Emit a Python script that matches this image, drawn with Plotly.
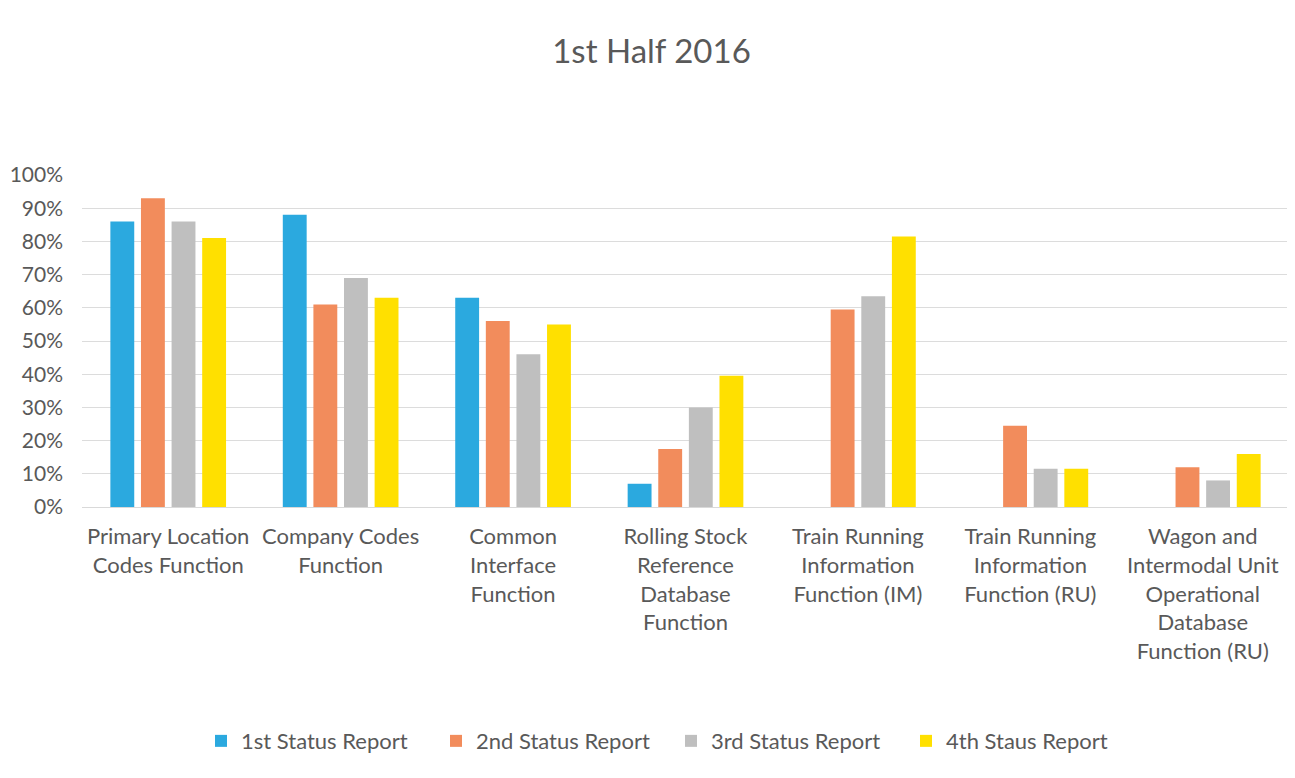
import plotly.graph_objects as go

categories = [
    "Primary Location<br>Codes Function",
    "Company Codes<br>Function",
    "Common<br>Interface<br>Function",
    "Rolling Stock<br>Reference<br>Database<br>Function",
    "Train Running<br>Information<br>Function (IM)",
    "Train Running<br>Information<br>Function (RU)",
    "Wagon and<br>Intermodal Unit<br>Operational<br>Database<br>Function (RU)",
]
series_names = ["1st Status Report", "2nd Status Report", "3rd Status Report", "4th Staus Report"]
first = [0.86, 0.88, 0.63, 0.07, None, None, None]
second = [0.93, 0.61, 0.56, 0.175, 0.595, 0.245, 0.12]
third = [0.86, 0.69, 0.46, 0.30, 0.635, 0.115, 0.08]
fourth = [0.81, 0.63, 0.55, 0.395, 0.815, 0.115, 0.16]
colors = ["#2BA9DF", "#F28C5C", "#BFBFBF", "#FFE000"]

fig = go.Figure()
for name, vals, c in zip(series_names, [first, second, third, fourth], colors):
    fig.add_trace(go.Bar(x=categories, y=vals, name=name, marker_color=c, marker_line_width=0))

font_family = "Lato, 'Open Sans', sans-serif"
fig.update_layout(
    width=1287, height=770,
    paper_bgcolor="white", plot_bgcolor="white",
    barmode="group", bargap=0.29, bargroupgap=0.22,
    margin=dict(l=74, r=6, t=167, b=271, autoexpand=False),
    title=dict(text="1st Half 2016", x=0.5, xanchor="center", y=0.943, yanchor="middle",
               font=dict(family=font_family, size=33, color="#595959")),
    font=dict(family=font_family, color="#595959"),
    legend=dict(orientation="h", x=0.488, xanchor="center", y=-0.705, yanchor="middle",
                font=dict(size=22, color="#595959"), itemwidth=30, traceorder="normal",
                entrywidth=190, entrywidthmode="pixels"),
    xaxis=dict(tickfont=dict(size=22, color="#595959"), showline=True, linecolor="#D9D9D9",
               ticks="", showgrid=False, automargin=False, ticklabelstandoff=10),
    yaxis=dict(range=[0, 1.0], dtick=0.1, tickformat=".0%", tickfont=dict(size=21, color="#595959"),
               gridcolor="#DCDCDC", showline=False, zeroline=False, ticks="",
               ticklabelstandoff=18, automargin=False),
)
fig.write_html("out.html")
